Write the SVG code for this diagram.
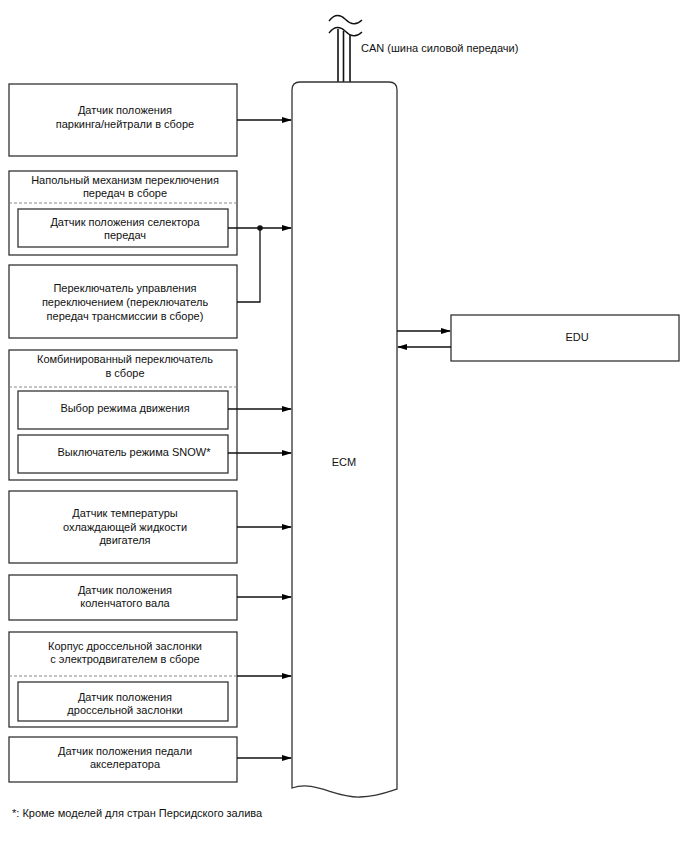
<svg xmlns="http://www.w3.org/2000/svg" width="688" height="852" viewBox="0 0 688 852">
<defs>
<marker id="ah" markerWidth="10" markerHeight="8" refX="9" refY="4" orient="auto" markerUnits="userSpaceOnUse">
<path d="M0,1 L10,4 L0,7 Z" fill="#000"/>
</marker>
<style>
.box{fill:#fff;stroke:#333;stroke-width:1.3}
.dash{stroke:#888;stroke-width:1;stroke-dasharray:3,2;fill:none}
.t{font-family:"Liberation Sans",Arial,sans-serif;font-size:11px;fill:#111;text-anchor:middle}
.tl{font-family:"Liberation Sans",Arial,sans-serif;font-size:11px;fill:#111}
.ln{stroke:#111;stroke-width:1.3;fill:none}
.ar{stroke:#111;stroke-width:1.3;fill:none;marker-end:url(#ah)}
</style>
</defs>
<rect width="688" height="852" fill="#fff"/>

<g id="can">
<path class="ln" d="M329,21 C335,13 341,15 345,19 C350,24 356,26 362,20"/>
<path class="ln" d="M329,33 C335,25 341,27 345,31 C350,36 356,38 362,32"/>
<line x1="338" y1="29" x2="338" y2="82" stroke="#111" stroke-width="1.6"/>
<line x1="343.5" y1="31" x2="343.5" y2="82" stroke="#111" stroke-width="1.6"/>
<line x1="350" y1="35" x2="350" y2="82" stroke="#111" stroke-width="1.6"/>
<text class="tl" x="361" y="52">CAN (шина силовой передачи)</text>
</g>

<g id="ecm">
<path class="box" d="M292,788 L292,90 Q292,82 300,82 L389,82 Q397,82 397,90 L397,789 C390,791 380,796 360,797 C335,798 315,780 292,788 Z"/>
<text class="t" x="344" y="466">ECM</text>
</g>

<g id="edu">
<rect class="box" x="451" y="315" width="228" height="46"/>
<text class="t" x="577" y="341">EDU</text>
</g>

<g id="pn-sensor">
<rect class="box" x="9" y="84" width="228" height="72"/>
<text class="t" x="125" y="114">Датчик положения</text>
<text class="t" x="125" y="128">паркинга/нейтрали в сборе</text>
</g>

<g id="shift-assy">
<rect class="box" x="9" y="171" width="228" height="84"/>
<text class="t" x="125" y="184">Напольный механизм переключения</text>
<text class="t" x="125" y="197">передач в сборе</text>
<line class="dash" x1="9" y1="203" x2="237" y2="203"/>
</g>
<g id="selector-sensor">
<rect class="box" x="18" y="209" width="210" height="38"/>
<text class="t" x="125" y="226">Датчик положения селектора</text>
<text class="t" x="125" y="239">передач</text>
</g>

<g id="shift-switch">
<rect class="box" x="9" y="265" width="228" height="73"/>
<text class="t" x="125" y="292">Переключатель управления</text>
<text class="t" x="125" y="306">переключением (переключатель</text>
<text class="t" x="125" y="320">передач трансмиссии в сборе)</text>
</g>

<g id="combo-switch">
<rect class="box" x="9" y="350" width="228" height="130"/>
<text class="t" x="125" y="363">Комбинированный переключатель</text>
<text class="t" x="125" y="377">в сборе</text>
<line class="dash" x1="9" y1="387" x2="237" y2="387"/>
</g>
<g id="drive-mode">
<rect class="box" x="18" y="391" width="210" height="38"/>
<text class="t" x="125" y="412">Выбор режима движения</text>
</g>
<g id="snow-switch">
<rect class="box" x="18" y="435" width="210" height="38"/>
<text class="t" x="134" y="456">Выключатель режима SNOW*</text>
</g>

<g id="ect-sensor">
<rect class="box" x="9" y="491" width="228" height="72"/>
<text class="t" x="125" y="517">Датчик температуры</text>
<text class="t" x="125" y="531">охлаждающей жидкости</text>
<text class="t" x="125" y="544">двигателя</text>
</g>

<g id="crank-sensor">
<rect class="box" x="9" y="575" width="228" height="45"/>
<text class="t" x="125" y="594">Датчик положения</text>
<text class="t" x="125" y="607">коленчатого вала</text>
</g>

<g id="throttle-body">
<rect class="box" x="9" y="632" width="228" height="95"/>
<text class="t" x="125" y="650">Корпус дроссельной заслонки</text>
<text class="t" x="125" y="663">с электродвигателем в сборе</text>
<line class="dash" x1="9" y1="676" x2="237" y2="676"/>
</g>
<g id="throttle-sensor">
<rect class="box" x="18" y="682" width="210" height="39"/>
<text class="t" x="125" y="701">Датчик положения</text>
<text class="t" x="125" y="714">дроссельной заслонки</text>
</g>

<g id="app-sensor">
<rect class="box" x="9" y="737" width="228" height="45"/>
<text class="t" x="125" y="755">Датчик положения педали</text>
<text class="t" x="125" y="768">акселератора</text>
</g>

<g id="connectors">
<line class="ar" x1="237" y1="120" x2="291" y2="120"/>
<line class="ar" x1="228" y1="228" x2="291" y2="228"/>
<polyline class="ln" points="237,302 260,302 260,228"/>
<circle cx="260" cy="228" r="2.8" fill="#111"/>
<line class="ar" x1="228" y1="409" x2="291" y2="409"/>
<line class="ar" x1="228" y1="453" x2="291" y2="453"/>
<line class="ar" x1="237" y1="527" x2="291" y2="527"/>
<line class="ar" x1="237" y1="597" x2="291" y2="597"/>
<line class="ar" x1="237" y1="676" x2="291" y2="676"/>
<line class="ar" x1="237" y1="758" x2="291" y2="758"/>
<line class="ar" x1="397" y1="331" x2="450" y2="331"/>
<line class="ar" x1="451" y1="347" x2="398" y2="347"/>
</g>

<text class="tl" x="12" y="817">*: Кроме моделей для стран Персидского залива</text>
</svg>
